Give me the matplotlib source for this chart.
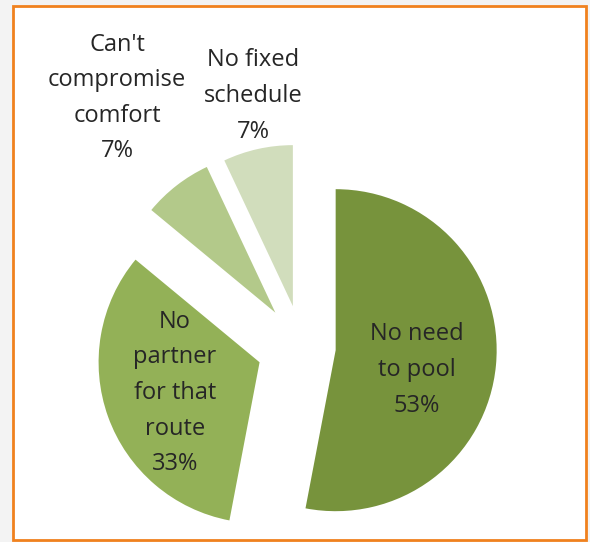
import matplotlib
matplotlib.use("Agg")
import matplotlib.pyplot as plt
from matplotlib.patches import Rectangle

labels = ["No need\nto pool", "No\npartner\nfor that\nroute", "Can't\ncompromise\ncomfort", "No fixed\nschedule"]
values = [53, 33, 7, 7]
colors = ["#77933C", "#93B157", "#B3C98A", "#D1DDBC"]
explode = [0.21, 0.28, 0.27, 0.26]

W, H = 590, 542
R = 161.0
cx, cy = 302.0, 347.0  # pie centre in pixels (from top-left)

fig = plt.figure(figsize=(W / 100, H / 100), dpi=100)
fig.patch.set_facecolor("#F3F3F3")
ax = fig.add_axes([0, 0, 1, 1])

def px(x, y):
    return (x - cx) / R, (cy - y) / R

ax.pie(values, explode=explode, colors=colors, startangle=90,
       counterclock=False, radius=1.0, center=(0, 0),
       wedgeprops=dict(linewidth=0), normalize=True)

ax.set_xlim(-cx / R, (W - cx) / R)
ax.set_ylim(-(H - cy) / R, cy / R)
ax.set_aspect("auto")
ax.axis("off")

# white panel with orange frame
x0, y0 = px(13, 540)
x1, y1 = px(586, 6)
ax.add_patch(Rectangle((x0, y0), x1 - x0, y1 - y0, facecolor="white",
                       edgecolor="#F0811E", linewidth=2, zorder=0))

label_pos = [(417, 370), (175, 393), (117, 98), (253, 96)]
for lab, v, (lx, ly) in zip(labels, values, label_pos):
    tx, ty = px(lx, ly)
    ax.text(tx, ty, f"{lab}\n{v}%", ha="center", va="center",
            fontsize=17, family=["Open Sans", "DejaVu Sans"],
            color="#262626", linespacing=1.64, zorder=5)

fig.savefig("out.png", dpi=100, facecolor=fig.get_facecolor())
